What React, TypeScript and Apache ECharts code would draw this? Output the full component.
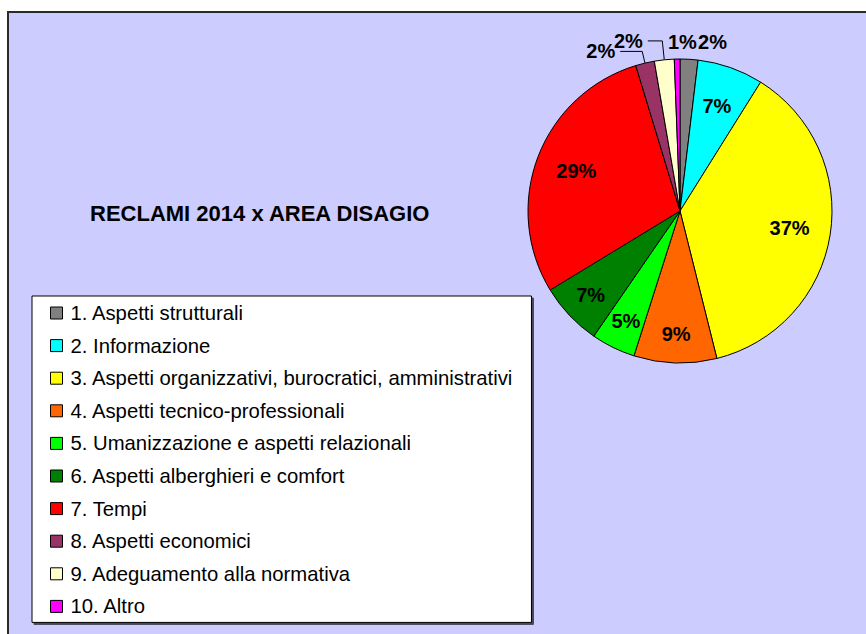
import React, { useEffect, useRef } from "react";
import * as echarts from "echarts";

const categories = [
  "1. Aspetti strutturali",
  "2. Informazione",
  "3. Aspetti organizzativi, burocratici, amministrativi",
  "4. Aspetti tecnico-professionali",
  "5. Umanizzazione e aspetti relazionali",
  "6. Aspetti alberghieri e comfort",
  "7. Tempi",
  "8. Aspetti economici",
  "9. Adeguamento alla normativa",
  "10. Altro",
];
const shares = [1.9, 7.0, 37.2, 8.8, 4.7, 6.7, 29.0, 2.0, 2.1, 0.6];
const colors = [
  "#808080",
  "#00FFFF",
  "#FFFF00",
  "#FF6600",
  "#00FF00",
  "#008000",
  "#FF0000",
  "#993366",
  "#FFFFCC",
  "#FF00FF",
];
const titleText = "RECLAMI 2014 x AREA DISAGIO";

// which ring carries each slice's label: 0 = outside, 1 = upper inner ring, 2 = lower inner ring
const labelRing = [0, 1, 1, 2, 2, 2, 1, 0, 0, 0];
// leader-line settings for the outside labels: [length, length2, showLine]
const outsideLabelLines: Record<number, [number, number, boolean]> = {
  0: [17, 3, false],
  7: [12, 22, true],
  8: [19, 14.5, true],
  9: [17, -25, false],
};

const FONT = "'Liberation Sans', Arial, sans-serif";

export default function App() {
  const ref = useRef<HTMLDivElement>(null);

  useEffect(() => {
    if (!ref.current) return;
    const chart = echarts.init(ref.current, null, { renderer: "svg" });
    const center = [680, 211];
    const labelFormatter = (p: any) => Math.round(p.percent) + "%";
    const labelStyle = {
      fontSize: 20,
      fontWeight: "bold" as const,
      color: "#000",
      fontFamily: FONT,
      formatter: labelFormatter,
    };

    const labelSeries = (ring: number, radius: number[]) => ({
      type: "pie",
      center,
      radius,
      startAngle: 90,
      clockwise: true,
      avoidLabelOverlap: false,
      silent: true,
      labelLayout: { hideOverlap: false },
      itemStyle: { color: "rgba(0,0,0,0)", borderWidth: 0 },
      label: { position: "inside", ...labelStyle },
      labelLine: { show: false },
      emphasis: { disabled: true },
      data: categories.map((name, i) => ({
        name,
        value: shares[i],
        label: { show: labelRing[i] === ring },
      })),
    });

    chart.setOption({
      animation: false,
      backgroundColor: "#ffffff",
      graphic: [
        {
          type: "rect",
          z: 0,
          silent: true,
          shape: { x: 8, y: 12, width: 880, height: 660 },
          style: { fill: "#CCCCFF", stroke: "#2a2a2a", lineWidth: 2 },
        },
      ],
      title: {
        text: titleText,
        left: 90,
        top: 202,
        padding: 0,
        textStyle: {
          fontSize: 22,
          fontWeight: "bold",
          color: "#000",
          fontFamily: FONT,
          lineHeight: 22,
        },
      },
      legend: {
        orient: "vertical",
        left: 32,
        top: 296,
        padding: [7, 18, 6, 18],
        itemGap: 12.6,
        itemWidth: 12,
        itemHeight: 12,
        icon: "rect",
        backgroundColor: "#ffffff",
        borderColor: "#000",
        borderWidth: 1,
        shadowColor: "rgba(0,0,0,0.65)",
        shadowBlur: 0,
        shadowOffsetX: 2,
        shadowOffsetY: 2,
        selectedMode: false,
        itemStyle: { borderColor: "#000", borderWidth: 1 },
        textStyle: {
          fontSize: 20.3,
          color: "#000",
          fontFamily: FONT,
          lineHeight: 20,
          padding: [0, 0, 0, 3],
        },
        data: categories,
      },
      series: [
        {
          type: "pie",
          center,
          radius: [0, 152],
          startAngle: 90,
          clockwise: true,
          avoidLabelOverlap: false,
          silent: true,
          labelLayout: { hideOverlap: false },
          itemStyle: { borderColor: "#000", borderWidth: 1 },
          label: { position: "outside", distanceToLabelLine: 5, ...labelStyle },
          labelLine: { lineStyle: { color: "#000", width: 1 } },
          emphasis: { disabled: true },
          data: categories.map((name, i) => {
            const ll = outsideLabelLines[i];
            return {
              name,
              value: shares[i],
              itemStyle: { color: colors[i] },
              label: { show: labelRing[i] === 0 },
              labelLine: ll
                ? { show: ll[2], length: ll[0], length2: ll[1] }
                : { show: false },
            };
          }),
        },
        labelSeries(1, [64, 152]),
        labelSeries(2, [88, 152]),
      ],
    });

    return () => chart.dispose();
  }, []);

  return (
    <div
      ref={ref}
      style={{ position: "absolute", left: 0, top: 0, width: 866, height: 634 }}
    />
  );
}
